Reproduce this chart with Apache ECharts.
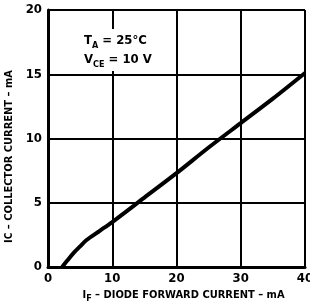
<!DOCTYPE html>
<html>
<head>
<meta charset="utf-8">
<script src="https://cdn.jsdelivr.net/npm/echarts@6/dist/echarts.min.js"></script>
<style>
html, body { margin: 0; padding: 0; background: #fff; }
#showChart { width: 310px; height: 306px; }
</style>
</head>
<body>
<div id="showChart"></div>
<script>
// diode forward current (mA) vs collector current (mA)
var ifValues = [2.2, 3, 4, 5, 6, 8, 10, 15, 20, 25, 30, 35, 40];
var icValues = [0, 0.5, 1.1, 1.6, 2.1, 2.8, 3.5, 5.4, 7.3, 9.3, 11.2, 13.1, 15.1];

var xTicks = [0, 10, 20, 30, 40];
var yTicks = [0, 5, 10, 15, 20];

var font = '"DejaVu Sans Condensed", "Liberation Sans Narrow", sans-serif';

var data = [];
for (var i = 0; i < ifValues.length; i++) {
    data.push([ifValues[i], icValues[i]]);
}

var option = {
    backgroundColor: '#fff',
    animation: false,
    grid: { left: 48, right: 5, top: 10, bottom: 39, outerBoundsMode: 'none', containLabel: false },
    xAxis: {
        type: 'value',
        min: xTicks[0],
        max: xTicks[xTicks.length - 1],
        interval: 10,
        axisLine: { show: true, onZero: false, lineStyle: { color: '#000', width: 3 } },
        axisTick: { show: false },
        axisLabel: { color: '#000', fontFamily: font, fontWeight: 'bold', fontSize: 13, margin: 5 },
        splitLine: { show: true, lineStyle: { color: '#000', width: 2 } },
        name: '{t|I}{s|F}{t| – DIODE FORWARD CURRENT – mA}',
        nameLocation: 'middle',
        nameGap: 20,
        nameTextStyle: {
            padding: [0, 0, 0, 14],
            rich: {
                t: { color: '#000', fontFamily: font, fontWeight: 'bold', fontSize: 11 },
                s: { color: '#000', fontFamily: font, fontWeight: 'bold', fontSize: 9, verticalAlign: 'bottom', padding: [6, 0, 0, 0] }
            }
        }
    },
    yAxis: {
        type: 'value',
        min: yTicks[0],
        max: yTicks[yTicks.length - 1],
        interval: 5,
        axisLine: { show: true, onZero: false, lineStyle: { color: '#000', width: 3 } },
        axisTick: { show: false },
        axisLabel: { color: '#000', fontFamily: font, fontWeight: 'bold', fontSize: 13, margin: 6 },
        splitLine: { show: true, lineStyle: { color: '#000', width: 2 } },
        name: '{t|I}{s|C}{t| – COLLECTOR CURRENT – mA}',
        nameLocation: 'middle',
        nameGap: 32,
        nameTextStyle: {
            padding: [0, 36, 0, 0],
            rich: {
                t: { color: '#000', fontFamily: font, fontWeight: 'bold', fontSize: 11 },
                s: { color: '#000', fontFamily: font, fontWeight: 'bold', fontSize: 10 }
            }
        }
    },
    graphic: [{
        type: 'text',
        left: 81,
        top: 29,
        z: 10,
        style: {
            text: '{t|T}{s|A}{t| = 25°C}\n{t|V}{s|CE}{t| = 10 V}',
            backgroundColor: '#fff',
            padding: [2, 3, 2, 3],
            rich: {
                t: { fill: '#000', fontFamily: font, fontWeight: 'bold', fontSize: 13, lineHeight: 19 },
                s: { fill: '#000', fontFamily: font, fontWeight: 'bold', fontSize: 9, lineHeight: 19, verticalAlign: 'bottom', padding: [8, 0, 0, 0] }
            }
        }
    }],
    series: [{
        type: 'line',
        data: data,
        smooth: 0.3,
        showSymbol: false,
        lineStyle: { color: '#000', width: 4 },
        z: 5
    }]
};

var chartOutChar = echarts.init(document.getElementById('showChart'));
chartOutChar.setOption(option);
</script>
</body>
</html>
